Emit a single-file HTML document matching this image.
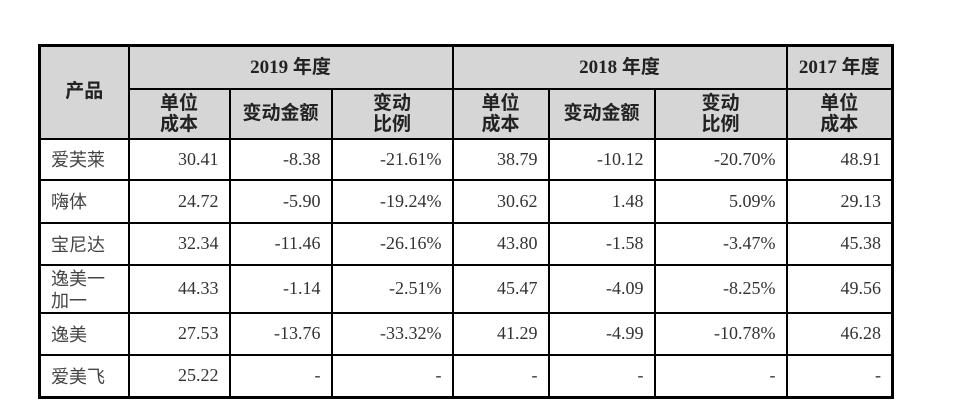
<!DOCTYPE html>
<html><head><meta charset="utf-8"><style>
body{margin:0;width:960px;height:414px;background:#fff;overflow:hidden}
table{position:absolute;left:38px;top:44px;border-collapse:collapse;table-layout:fixed;border:3px solid #000;font-family:"Liberation Serif","Noto Serif CJK SC",serif;font-size:18px;color:#333}
td,th{border:2px solid #000;padding:0 10px;box-sizing:border-box}
th{background:#d6d6d6;font-weight:bold;color:#222;font-family:"Liberation Serif","Noto Sans CJK SC",sans-serif;text-align:center;line-height:21px;font-size:19px}
td{text-align:right}
td.n{text-align:left;font-family:"Noto Sans CJK SC",sans-serif;color:#444;line-height:22px;font-size:18px}
</style></head><body>
<table>
<colgroup><col style="width:89px"><col style="width:101px"><col style="width:102px"><col style="width:121px"><col style="width:96px"><col style="width:106px"><col style="width:132px"><col style="width:106px"></colgroup>
<tr style="height:43px"><th rowspan="2" style="vertical-align:top;padding-top:34px">产品</th><th colspan="3">2019 年度</th><th colspan="3">2018 年度</th><th>2017 年度</th></tr>
<tr style="height:50px"><th>单位<br>成本</th><th>变动金额</th><th>变动<br>比例</th><th>单位<br>成本</th><th>变动金额</th><th>变动<br>比例</th><th>单位<br>成本</th></tr>
<tr style="height:41px"><td class="n">爱芙莱</td><td>30.41</td><td>-8.38</td><td>-21.61%</td><td>38.79</td><td>-10.12</td><td>-20.70%</td><td>48.91</td></tr>
<tr style="height:43px"><td class="n">嗨体</td><td>24.72</td><td>-5.90</td><td>-19.24%</td><td>30.62</td><td>1.48</td><td>5.09%</td><td>29.13</td></tr>
<tr style="height:42px"><td class="n">宝尼达</td><td>32.34</td><td>-11.46</td><td>-26.16%</td><td>43.80</td><td>-1.58</td><td>-3.47%</td><td>45.38</td></tr>
<tr style="height:48px"><td class="n">逸美一<br>加一</td><td>44.33</td><td>-1.14</td><td>-2.51%</td><td>45.47</td><td>-4.09</td><td>-8.25%</td><td>49.56</td></tr>
<tr style="height:42px"><td class="n">逸美</td><td>27.53</td><td>-13.76</td><td>-33.32%</td><td>41.29</td><td>-4.99</td><td>-10.78%</td><td>46.28</td></tr>
<tr style="height:43px"><td class="n">爱美飞</td><td>25.22</td><td>-</td><td>-</td><td>-</td><td>-</td><td>-</td><td>-</td></tr>
</table>
</body></html>
